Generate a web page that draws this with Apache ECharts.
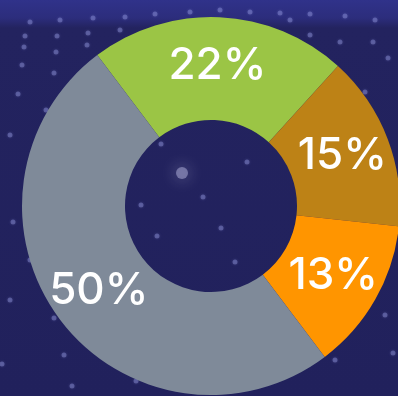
<!DOCTYPE html>
<html>
<head>
<meta charset="utf-8">
<script src="https://cdn.jsdelivr.net/npm/echarts@6/dist/echarts.min.js"></script>
<style>
html,body{margin:0;padding:0;}
body{
    width:398px;height:396px;overflow:hidden;
    background:linear-gradient(to bottom,#30328a 0px,#2c2d7c 18px,#23235f 28px,#21215c 100%);
}
#main{width:398px;height:396px;}
</style>
</head>
<body>
<div id="main"></div>
<script>
// slices, clockwise from the upper left
var names = ['A', 'B', 'C', 'D'];
var values = [22, 15, 13, 50];
var colors = ['#9bc545', '#bd8216', '#ff9500', '#7f8a99'];

// background star dots (pixel positions)
var starX = [30,60,93,125,155,190,220,250,280,310,345,375,25,57,88,120,24,56,87,310,340,373,22,54,18,46,10,13,10,161,247,203,141,221,157,54,64,2,72,136,385,393,378,365,388,320,290,45,30,110,235,335];
var starY = [22,20,18,17,14,12,10,12,13,14,16,20,36,36,33,30,47,52,45,35,42,42,65,73,94,110,135,222,300,144,162,197,205,228,236,318,355,364,386,381,315,353,134,92,58,112,20,170,260,240,262,360];
var glowStar = [182, 173];

var chart = echarts.init(document.getElementById('main'));
chart.setOption({
    backgroundColor: 'transparent',
    animation: false,
    grid: {left: 0, right: 0, top: 0, bottom: 0},
    xAxis: {type: 'value', min: 0, max: 398, show: false},
    yAxis: {type: 'value', min: 0, max: 396, inverse: true, show: false},
    series: [
        {
            type: 'scatter',
            z: 1,
            symbolSize: 5,
            silent: true,
            itemStyle: {color: 'rgba(150,155,225,0.5)', shadowBlur: 3, shadowColor: 'rgba(150,155,225,0.6)'},
            data: starX.map(function (x, i) { return [x, starY[i]]; })
        },
        {
            type: 'scatter',
            z: 3,
            symbolSize: 12,
            silent: true,
            itemStyle: {color: 'rgba(200,200,240,0.55)', shadowBlur: 16, shadowColor: 'rgba(230,230,255,0.9)'},
            data: [glowStar]
        },
        {
            type: 'pie',
            z: 2,
            center: [211, 206],
            radius: [86, 189],
            startAngle: 127,
            clockwise: true,
            silent: true,
            label: {
                show: true,
                position: 'inside',
                formatter: '{c}%',
                color: '#ffffff',
                fontSize: 44,
                fontFamily: 'Inter',
                fontWeight: 500
            },
            labelLine: {show: false},
            data: values.map(function (v, i) {
                return {name: names[i], value: v, itemStyle: {color: colors[i]}};
            })
        }
    ]
});
</script>
</body>
</html>
